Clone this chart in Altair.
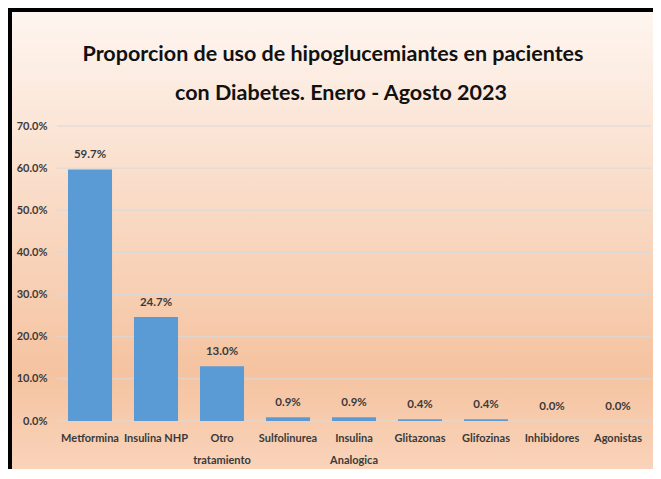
import altair as alt
import pandas as pd

categories = ["Metformina", "Insulina NHP", "Otro tratamiento", "Sulfolinurea",
              "Insulina Analogica", "Glitazonas", "Glifozinas", "Inhibidores", "Agonistas"]
values = [0.597, 0.247, 0.130, 0.009, 0.009, 0.004, 0.004, 0.0, 0.0]
y_ticks = [0.0, 0.1, 0.2, 0.3, 0.4, 0.5, 0.6, 0.7]
title_line1 = "Proporcion de uso de hipoglucemiantes en pacientes"
title_line2 = "con Diabetes. Enero - Agosto 2023"

FONT = "Lato, Roboto, sans-serif"
TXT = "#3a3a3a"

df = pd.DataFrame({"cat": categories, "val": values})
grid_df = pd.DataFrame({"t": y_ticks})
one_df = pd.DataFrame({"k": [0]})

y_scale = alt.Scale(domain=[0, 0.7], nice=False)
x_scale = alt.Scale(paddingInner=0.333, paddingOuter=0.1667)

gradient = alt.Gradient(
    gradient="linear", x1=0, x2=0, y1=0, y2=1,
    stops=[alt.GradientStop(color="#fef6f1", offset=0),
           alt.GradientStop(color="#f5c3a0", offset=0.79),
           alt.GradientStop(color="#f9d3ba", offset=1)])

bg = alt.Chart(one_df).mark_rect(color=gradient, strokeWidth=0).encode(
    x=alt.value(-49), x2=alt.value(596), y=alt.value(-118), y2=alt.value(343))

border_top = alt.Chart(one_df).mark_rule(color="black", strokeWidth=4).encode(
    x=alt.value(-49), x2=alt.value(596), y=alt.value(-116))
border_left = alt.Chart(one_df).mark_rule(color="black", strokeWidth=4).encode(
    x=alt.value(-47), y=alt.value(-118), y2=alt.value(343))

t1 = alt.Chart(one_df).mark_text(font=FONT, fontSize=21.5, fontWeight="bold", color="#111111",
                                 align="center", baseline="alphabetic").encode(
    x=alt.value(276), y=alt.value(-65), text=alt.value(title_line1))
t2 = alt.Chart(one_df).mark_text(font=FONT, fontSize=21.5, fontWeight="bold", color="#111111",
                                 align="center", baseline="alphabetic").encode(
    x=alt.value(284), y=alt.value(-26), text=alt.value(title_line2))

grid = alt.Chart(grid_df).mark_rule(color="#d9d9d9", strokeWidth=1).encode(
    y=alt.Y("t:Q", scale=y_scale))

label_expr = ("indexof(['Otro tratamiento','Insulina Analogica'], datum.label) >= 0"
              " ? split(datum.label, ' ') : datum.label")

bars = alt.Chart(df).mark_bar(color="#5b9bd5").encode(
    x=alt.X("cat:N", sort=categories, scale=x_scale,
            axis=alt.Axis(title=None, labelAngle=0, domain=False, ticks=False, grid=False,
                          labelFont=FONT, labelFontSize=11, labelFontWeight="bold",
                          labelColor=TXT, labelPadding=11, labelLineHeight=22,
                          labelBaseline="top", labelExpr=label_expr, zindex=1)),
    y=alt.Y("val:Q", scale=y_scale,
            axis=alt.Axis(title=None, values=y_ticks, format=".1%", domain=False, ticks=False,
                          grid=False, labelFont=FONT, labelFontSize=11, labelFontWeight="bold",
                          labelColor=TXT, labelPadding=10, zindex=1)))

text = alt.Chart(df).mark_text(baseline="bottom", dy=-9, font=FONT, fontSize=11.5,
                               fontWeight="bold", color=TXT).encode(
    x=alt.X("cat:N", sort=categories, scale=x_scale),
    y=alt.Y("val:Q", scale=y_scale),
    text=alt.Text("val:Q", format=".1%"))

chart = alt.layer(bg, border_top, border_left, t1, t2, grid, bars, text).properties(
    width=594, height=295,
    autosize="none",
    padding={"left": 49, "top": 118, "right": 2, "bottom": 50},
).configure_view(stroke=None)

chart.save("out.html", embed_options={"renderer": "svg", "actions": False})
